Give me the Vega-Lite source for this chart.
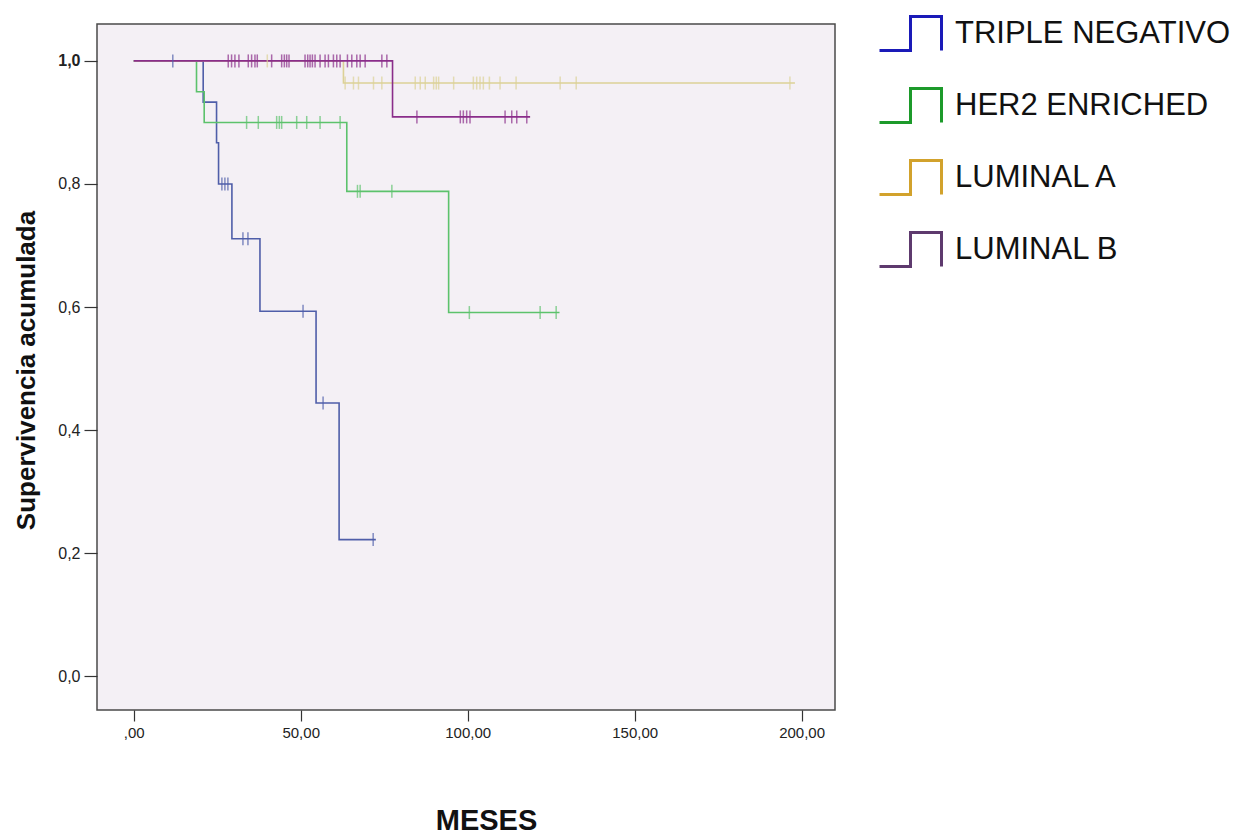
{
  "$schema": "https://vega.github.io/schema/vega-lite/v6.json",
  "autosize": {"type": "none"},
  "width": 738,
  "height": 686,
  "padding": {"left": 97, "top": 24, "right": 418, "bottom": 124},
  "background": "white",
  "config": {
    "font": "Liberation Sans",
    "view": {"fill": "#f4f0f5", "stroke": "#4a4a4a", "strokeWidth": 1.5},
    "axis": {"grid": false, "domain": false, "labelFont": "Liberation Sans", "titleFont": "Liberation Sans"}
  },
  "datasets": {
    "km": [
      {"g": "TRIPLE NEGATIVO", "t": 0, "s": 1},
      {"g": "TRIPLE NEGATIVO", "t": 20.8, "s": 0.933},
      {"g": "TRIPLE NEGATIVO", "t": 24.8, "s": 0.867},
      {"g": "TRIPLE NEGATIVO", "t": 25.4, "s": 0.8},
      {"g": "TRIPLE NEGATIVO", "t": 29.4, "s": 0.711},
      {"g": "TRIPLE NEGATIVO", "t": 37.8, "s": 0.593},
      {"g": "TRIPLE NEGATIVO", "t": 54.6, "s": 0.444},
      {"g": "TRIPLE NEGATIVO", "t": 61.5, "s": 0.222},
      {"g": "TRIPLE NEGATIVO", "t": 72.5, "s": 0.222},
      {"g": "HER2 ENRICHED", "t": 0, "s": 1},
      {"g": "HER2 ENRICHED", "t": 18.8, "s": 0.95},
      {"g": "HER2 ENRICHED", "t": 21.1, "s": 0.9},
      {"g": "HER2 ENRICHED", "t": 63.8, "s": 0.788},
      {"g": "HER2 ENRICHED", "t": 94.3, "s": 0.591},
      {"g": "HER2 ENRICHED", "t": 127.5, "s": 0.591},
      {"g": "LUMINAL A", "t": 0, "s": 1},
      {"g": "LUMINAL A", "t": 62.8, "s": 0.964},
      {"g": "LUMINAL A", "t": 198, "s": 0.964},
      {"g": "LUMINAL B", "t": 0, "s": 1},
      {"g": "LUMINAL B", "t": 77.5, "s": 0.909},
      {"g": "LUMINAL B", "t": 118.7, "s": 0.909}
    ],
    "cens": [
      {"g": "TRIPLE NEGATIVO", "t": 11.7, "s": 1},
      {"g": "TRIPLE NEGATIVO", "t": 26.4, "s": 0.8},
      {"g": "TRIPLE NEGATIVO", "t": 27.3, "s": 0.8},
      {"g": "TRIPLE NEGATIVO", "t": 28.2, "s": 0.8},
      {"g": "TRIPLE NEGATIVO", "t": 32.7, "s": 0.711},
      {"g": "TRIPLE NEGATIVO", "t": 34.2, "s": 0.711},
      {"g": "TRIPLE NEGATIVO", "t": 50.7, "s": 0.593},
      {"g": "TRIPLE NEGATIVO", "t": 56.7, "s": 0.444},
      {"g": "TRIPLE NEGATIVO", "t": 71.7, "s": 0.222},
      {"g": "HER2 ENRICHED", "t": 33.8, "s": 0.9},
      {"g": "HER2 ENRICHED", "t": 37.3, "s": 0.9},
      {"g": "HER2 ENRICHED", "t": 42.8, "s": 0.9},
      {"g": "HER2 ENRICHED", "t": 43.6, "s": 0.9},
      {"g": "HER2 ENRICHED", "t": 44.3, "s": 0.9},
      {"g": "HER2 ENRICHED", "t": 48.8, "s": 0.9},
      {"g": "HER2 ENRICHED", "t": 51.8, "s": 0.9},
      {"g": "HER2 ENRICHED", "t": 55.8, "s": 0.9},
      {"g": "HER2 ENRICHED", "t": 61.8, "s": 0.9},
      {"g": "HER2 ENRICHED", "t": 67.0, "s": 0.788},
      {"g": "HER2 ENRICHED", "t": 67.8, "s": 0.788},
      {"g": "HER2 ENRICHED", "t": 77.3, "s": 0.788},
      {"g": "HER2 ENRICHED", "t": 100.5, "s": 0.591},
      {"g": "HER2 ENRICHED", "t": 121.7, "s": 0.591},
      {"g": "HER2 ENRICHED", "t": 126.5, "s": 0.591},
      {"g": "LUMINAL A", "t": 40.0, "s": 1},
      {"g": "LUMINAL A", "t": 63.3, "s": 0.964},
      {"g": "LUMINAL A", "t": 65.8, "s": 0.964},
      {"g": "LUMINAL A", "t": 67.3, "s": 0.964},
      {"g": "LUMINAL A", "t": 71.8, "s": 0.964},
      {"g": "LUMINAL A", "t": 74.3, "s": 0.964},
      {"g": "LUMINAL A", "t": 84.3, "s": 0.964},
      {"g": "LUMINAL A", "t": 85.8, "s": 0.964},
      {"g": "LUMINAL A", "t": 87.3, "s": 0.964},
      {"g": "LUMINAL A", "t": 89.8, "s": 0.964},
      {"g": "LUMINAL A", "t": 90.6, "s": 0.964},
      {"g": "LUMINAL A", "t": 91.3, "s": 0.964},
      {"g": "LUMINAL A", "t": 95.8, "s": 0.964},
      {"g": "LUMINAL A", "t": 101.7, "s": 0.964},
      {"g": "LUMINAL A", "t": 102.7, "s": 0.964},
      {"g": "LUMINAL A", "t": 103.7, "s": 0.964},
      {"g": "LUMINAL A", "t": 104.7, "s": 0.964},
      {"g": "LUMINAL A", "t": 106.5, "s": 0.964},
      {"g": "LUMINAL A", "t": 109.7, "s": 0.964},
      {"g": "LUMINAL A", "t": 114.5, "s": 0.964},
      {"g": "LUMINAL A", "t": 127.7, "s": 0.964},
      {"g": "LUMINAL A", "t": 132.5, "s": 0.964},
      {"g": "LUMINAL A", "t": 196.5, "s": 0.964},
      {"g": "LUMINAL B", "t": 28.3, "s": 1},
      {"g": "LUMINAL B", "t": 29.3, "s": 1},
      {"g": "LUMINAL B", "t": 30.3, "s": 1},
      {"g": "LUMINAL B", "t": 31.5, "s": 1},
      {"g": "LUMINAL B", "t": 34.3, "s": 1},
      {"g": "LUMINAL B", "t": 35.3, "s": 1},
      {"g": "LUMINAL B", "t": 36.3, "s": 1},
      {"g": "LUMINAL B", "t": 37.0, "s": 1},
      {"g": "LUMINAL B", "t": 41.3, "s": 1},
      {"g": "LUMINAL B", "t": 44.3, "s": 1},
      {"g": "LUMINAL B", "t": 45.1, "s": 1},
      {"g": "LUMINAL B", "t": 45.8, "s": 1},
      {"g": "LUMINAL B", "t": 46.5, "s": 1},
      {"g": "LUMINAL B", "t": 51.3, "s": 1},
      {"g": "LUMINAL B", "t": 52.1, "s": 1},
      {"g": "LUMINAL B", "t": 52.8, "s": 1},
      {"g": "LUMINAL B", "t": 53.5, "s": 1},
      {"g": "LUMINAL B", "t": 54.3, "s": 1},
      {"g": "LUMINAL B", "t": 55.8, "s": 1},
      {"g": "LUMINAL B", "t": 57.3, "s": 1},
      {"g": "LUMINAL B", "t": 58.3, "s": 1},
      {"g": "LUMINAL B", "t": 59.8, "s": 1},
      {"g": "LUMINAL B", "t": 60.8, "s": 1},
      {"g": "LUMINAL B", "t": 61.8, "s": 1},
      {"g": "LUMINAL B", "t": 64.0, "s": 1},
      {"g": "LUMINAL B", "t": 65.3, "s": 1},
      {"g": "LUMINAL B", "t": 66.8, "s": 1},
      {"g": "LUMINAL B", "t": 67.8, "s": 1},
      {"g": "LUMINAL B", "t": 69.3, "s": 1},
      {"g": "LUMINAL B", "t": 74.3, "s": 1},
      {"g": "LUMINAL B", "t": 75.8, "s": 1},
      {"g": "LUMINAL B", "t": 84.8, "s": 0.909},
      {"g": "LUMINAL B", "t": 97.8, "s": 0.909},
      {"g": "LUMINAL B", "t": 98.7, "s": 0.909},
      {"g": "LUMINAL B", "t": 99.7, "s": 0.909},
      {"g": "LUMINAL B", "t": 100.7, "s": 0.909},
      {"g": "LUMINAL B", "t": 111.2, "s": 0.909},
      {"g": "LUMINAL B", "t": 113.2, "s": 0.909},
      {"g": "LUMINAL B", "t": 114.7, "s": 0.909},
      {"g": "LUMINAL B", "t": 117.7, "s": 0.909}
    ]
  },
  "encoding": {
    "x": {
      "field": "t", "type": "quantitative",
      "scale": {"domain": [-11, 210], "nice": false, "zero": false},
      "axis": {
        "values": [0, 50, 100, 150, 200],
        "labelExpr": "datum.value == 0 ? ',00' : replace(format(datum.value, '.2f'), '.', ',')",
        "labelFontSize": 15, "labelColor": "#222", "labelPadding": 4,
        "tickSize": 11, "tickColor": "#333", "tickWidth": 1.2,
        "title": "MESES", "titleFontSize": 29, "titleFontWeight": "bold", "titleColor": "#111",
        "titleX": 389, "titleY": 119, "titleAlign": "center", "titleBaseline": "alphabetic", "titleAnchor": null
      }
    },
    "y": {
      "field": "s", "type": "quantitative",
      "scale": {"domain": [-0.055, 1.06], "nice": false, "zero": false},
      "axis": {
        "values": [0, 0.2, 0.4, 0.6, 0.8, 1.0],
        "labelExpr": "replace(format(datum.value, '.1f'), '.', ',')",
        "labelFontSize": 16, "labelColor": "#222", "labelPadding": 4,
        "labelFontWeight": {"condition": {"test": "datum.value == 1", "value": "bold"}, "value": "normal"},
        "tickSize": 13, "tickColor": "#333", "tickWidth": 1.2,
        "title": "Supervivencia acumulada", "titleFontSize": 26, "titleFontWeight": "bold", "titleColor": "#111",
        "titleAngle": -90, "titleX": -63, "titleY": 346, "titleAlign": "center", "titleBaseline": "alphabetic", "titleAnchor": null
      }
    }
  },
  "layer": [
    {
      "data": {"name": "km"},
      "mark": {"type": "line", "interpolate": "step-after", "strokeWidth": 1.6},
      "encoding": {
        "color": {
          "field": "g", "type": "nominal", "legend": null,
          "scale": {"range": ["#5cc26c", "#dcd196", "#8a2d8a", "#4f5ea9"]}
        }
      }
    },
    {
      "data": {"name": "cens"},
      "mark": {"type": "tick", "orient": "vertical", "size": 13, "thickness": 1.5},
      "encoding": {
        "color": {"field": "g", "type": "nominal", "legend": null}
      }
    },
    {
      "data": {"name": "km"},
      "mark": {"type": "line", "interpolate": "step-after", "strokeOpacity": 0},
      "encoding": {
        "stroke": {
          "field": "g", "type": "nominal",
          "scale": {
            "domain": ["TRIPLE NEGATIVO", "HER2 ENRICHED", "LUMINAL A", "LUMINAL B"],
            "range": ["#1a1ab8", "#1c9a2a", "#d2a22c", "#5e3a6e"]
          },
          "legend": {
            "orient": "none", "legendX": 781, "legendY": -23, "padding": 0,
            "title": null,
            "symbolType": "M-1,0.55L0,0.55L0,-0.55L1,-0.55L1,0.55",
            "symbolSize": 3844, "symbolStrokeWidth": 3, "symbolFillColor": "transparent", "symbolOpacity": 1,
            "labelFont": "Liberation Sans", "labelFontSize": 31, "labelColor": "#111", "labelOffset": 12, "labelLimit": 400,
            "rowPadding": 16
          }
        }
      }
    }
  ]
}
